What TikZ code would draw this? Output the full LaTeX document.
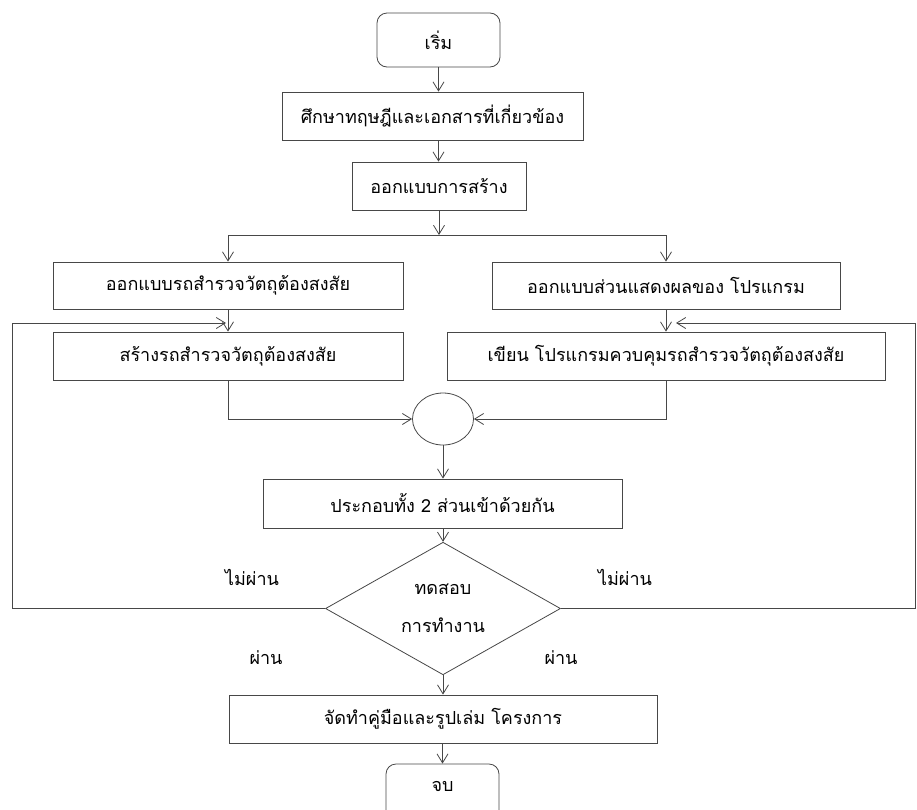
\documentclass[tikz,border=0pt]{standalone}
\usepackage{fontspec}
\newfontfamily\thaifont[Script=Thai]{Loma}
\usepackage{tikz}
\usetikzlibrary{arrows.meta, shapes.geometric}

\begin{document}
\begin{tikzpicture}[x=1pt, y=-1pt,
				>={Straight Barb[length=9pt,width=11pt]},   %Voreinstellung für Pfeilspitzen
				line/.style={draw=black!72, line width=0.8pt},
				kasten/.style={line, rectangle, minimum height=48, inner sep=0pt},
				ende/.style={kasten, rounded corners=10pt, minimum height=54},
				raute/.style={line, diamond, minimum width=235, minimum height=117, inner sep=0pt, align=center},
				font=\thaifont\fontsize{18}{38}\selectfont]
				%Bildbereich
				\useasboundingbox (0,0) rectangle (917,809);
				\clip (0,0) rectangle (917,809);
				%Knoten zeichnen
				\node[ende, minimum width=123] (start) at (438.5,40) {เริ่ม};
				\node[kasten, minimum width=301] (studie) at (432.5,116) {ศึกษาทฤษฎีและเอกสารที่เกี่ยวข้อง};
				\node[kasten, minimum width=174] (entwurf) at (439,186) {ออกแบบการสร้าง};
				\node[kasten, minimum width=350, minimum height=47] (autoplan) at (228,285.5) {ออกแบบรถสำรวจวัตถุต้องสงสัย};
				\node[kasten, minimum width=348, minimum height=47] (anzeige) at (666,285.5) {ออกแบบส่วนแสดงผลของ โปรแกรม};
				\node[kasten, minimum width=350] (autobau) at (228,356) {สร้างรถสำรวจวัตถุต้องสงสัย};
				\node[kasten, minimum width=438] (programm) at (666,356) {เขียน โปรแกรมควบคุมรถสำรวจวัตถุต้องสงสัย};
				\node[line, ellipse, minimum width=61, minimum height=52, inner sep=0pt] (kreis) at (443,419) {};
				\node[kasten, minimum width=359, minimum height=49] (montage) at (442.5,503.5) {ประกอบทั้ง 2 ส่วนเข้าด้วยกัน};
				\node[raute] (test) at (443,608.5) {ทดสอบ\\การทำงาน};
				\node[kasten, minimum width=428] (handbuch) at (443,719) {จัดทำคู่มือและรูปเล่ม โครงการ};
				\node[ende, minimum width=113, minimum height=60] (stop) at (442.5,794) {};
				\node (stoptext) at (442.5,786) {จบ};
				% Hilfspunkte
				\coordinate (teilung) at (439,235);
				\coordinate (randL) at (12,608.5);
				\coordinate (randR) at (915,608.5);
				\coordinate (rueckL) at (226,323);
				\coordinate (rueckR) at (676,323);
				% Verbindungen zeichnen
				\draw[line,->] (start) -- (start |- studie.north);
				\draw[line,->] (studie.south -| start) -- (start |- entwurf.north);
				\draw[line,->] (entwurf) -- (teilung);
				\draw[line,->] (teilung) -| (autoplan.north);
				\draw[line,->] (teilung) -| (anzeige.north);
				\draw[line,->] (autoplan) -- (autobau);
				\draw[line,->] (anzeige) -- (programm);
				\draw[line,->] (autobau.south) |- (kreis.west);
				\draw[line,->] (programm.south) |- (kreis.east);
				\draw[line,->] (kreis) -- (kreis |- montage.north);
				\draw[line,->] (montage.south -| test) -- (test);
				\draw[line,->] (test) -- (test |- handbuch.north);
				\draw[line,->] (handbuch.south -| stop) -- (stop);
				% Rueckfuehrung
				\draw[line,->] (test.west) -- (randL) |- (rueckL);
				\draw[line,->] (test.east) -- (randR) |- (rueckR);
				%Beschriftung
				\node (neinL) at (252,577) {ไม่ผ่าน};
				\node (neinR) at (625,577) {ไม่ผ่าน};
				\node (jaL) at (266,658) {ผ่าน};
				\node (jaR) at (561,658) {ผ่าน};
			\end{tikzpicture}
\end{document}
